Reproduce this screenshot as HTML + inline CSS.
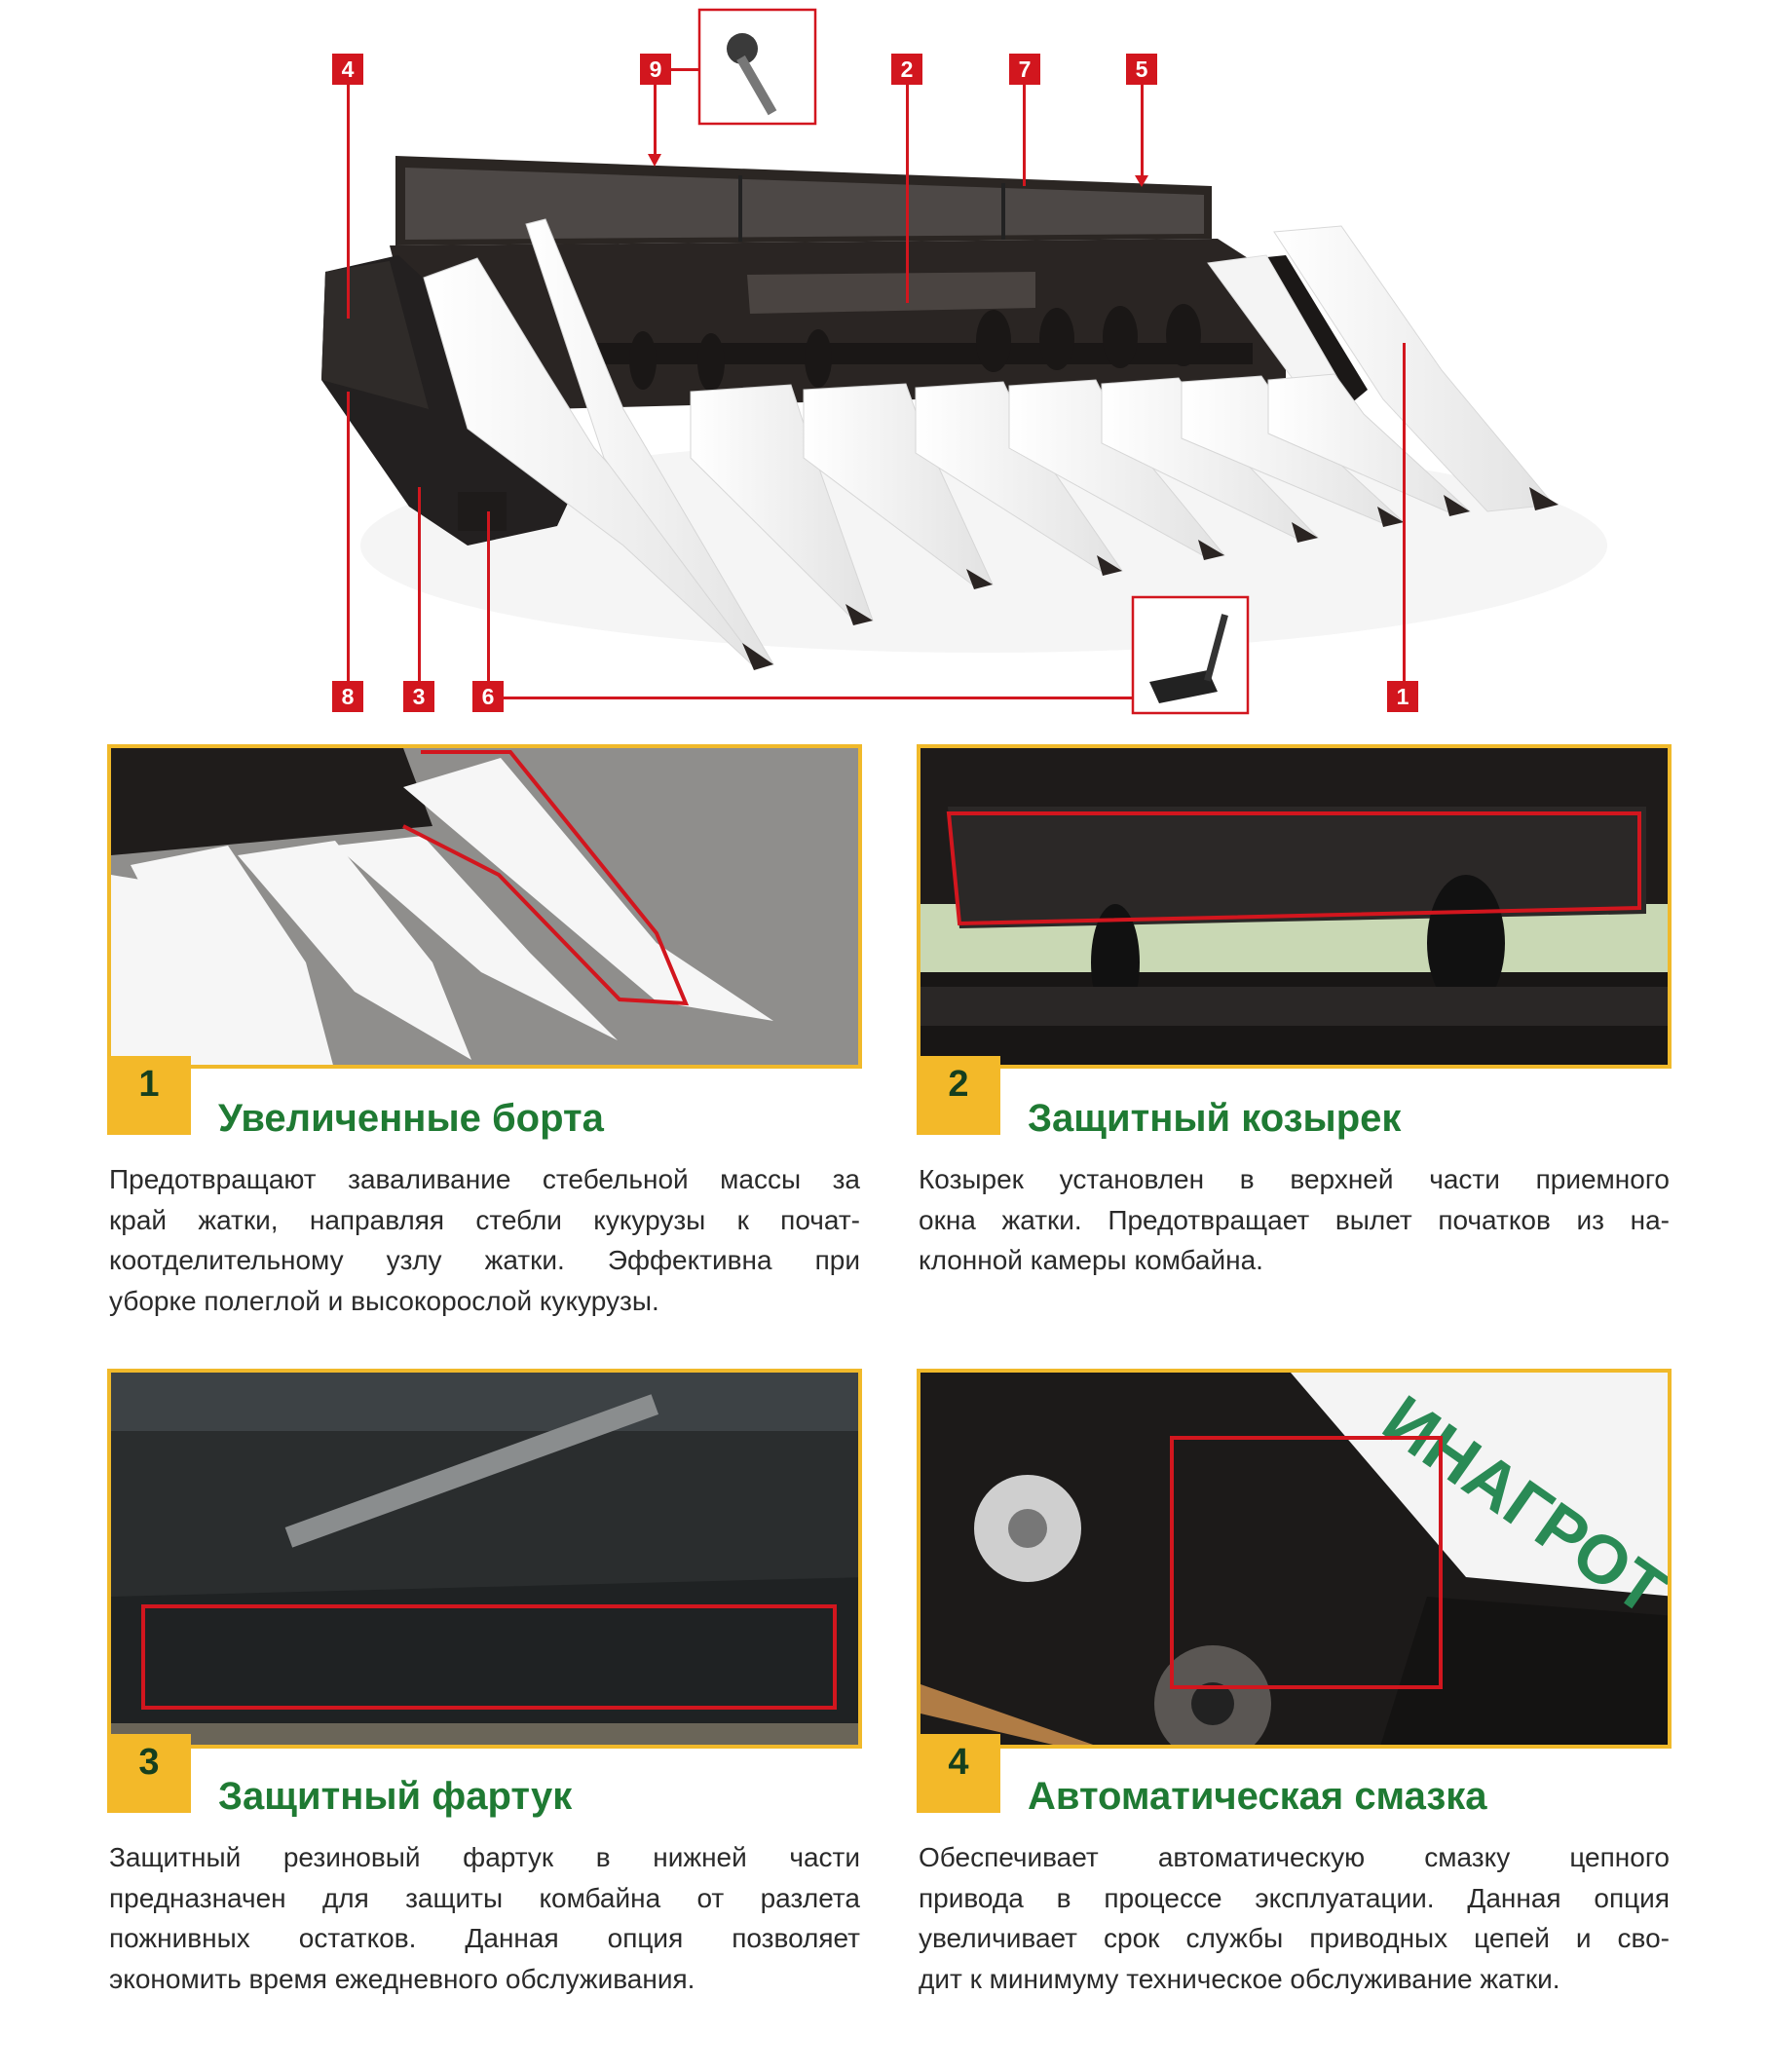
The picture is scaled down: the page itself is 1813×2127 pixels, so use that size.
<!DOCTYPE html>
<html><head><meta charset="utf-8">
<style>
body{margin:0;width:1813px;height:2127px;background:#fff;position:relative;overflow:hidden;font-family:"Liberation Sans",sans-serif}
.a{position:absolute}
.panel{position:absolute;border:4px solid #f0b92a;box-sizing:border-box;overflow:hidden}
.num{position:absolute;width:86px;height:81px;background:#f3b929;color:#163f1e;font:bold 38px "Liberation Sans",sans-serif;text-align:center;line-height:58px}
.title{position:absolute;color:#1f7a33;font:bold 40px "Liberation Sans",sans-serif;white-space:nowrap}
.txt{position:absolute;width:771px;color:#2a2a2a;font-size:28px;line-height:41.5px}
.txt div{text-align:justify;text-align-last:justify;height:41.5px;white-space:nowrap;overflow:visible}
.txt div.l{text-align-last:left}
.lab{position:absolute;width:32px;height:32px;background:#d2161e;color:#fff;font:bold 23px "Liberation Sans",sans-serif;text-align:center;line-height:32px}
.rl{position:absolute;background:#d2161e}
</style></head><body>

<svg class="a" style="left:0;top:0" width="1813" height="760">
<defs>
<linearGradient id="cone" x1="0" x2="1"><stop offset="0" stop-color="#fff"/><stop offset="1" stop-color="#e2e2e2"/></linearGradient>
</defs>
<ellipse cx="1010" cy="560" rx="640" ry="110" fill="#f5f5f5"/>
<!-- mesh panel -->
<polygon points="406,160 1244,191 1244,245 406,252" fill="#2b2623"/>
<polygon points="416,172 1236,200 1236,240 416,246" fill="#4d4846"/>
<line x1="760" y1="180" x2="760" y2="248" stroke="#222" stroke-width="4"/>
<line x1="1030" y1="188" x2="1030" y2="246" stroke="#222" stroke-width="4"/>
<!-- back wall -->
<polygon points="400,252 1250,245 1320,290 1320,400 560,420 420,330" fill="#2a2523"/>
<polygon points="767,282 1063,279 1063,316 770,322" fill="#4a4441"/>
<!-- auger -->
<rect x="586" y="352" width="700" height="22" fill="#1a1716"/>
<g fill="#1a1716">
<ellipse cx="660" cy="370" rx="14" ry="30"/><ellipse cx="730" cy="372" rx="14" ry="30"/><ellipse cx="840" cy="368" rx="14" ry="30"/><ellipse cx="1020" cy="350" rx="18" ry="32"/><ellipse cx="1085" cy="348" rx="18" ry="32"/><ellipse cx="1150" cy="346" rx="18" ry="32"/><ellipse cx="1215" cy="344" rx="18" ry="32"/>
</g>
<!-- left side block -->
<polygon points="334,279 409,262 450,300 520,400 600,480 572,540 480,560 420,520 330,390" fill="#232020"/>
<polygon points="334,279 400,268 440,420 330,390" fill="#2f2b29"/>
<rect x="470" y="505" width="50" height="40" fill="#1e1b1a"/>
<!-- right dark panel + wing -->
<polygon points="1281,266 1320,262 1404,400 1380,420" fill="#1b1817"/>
<polygon points="1240,270 1300,262 1380,400 1350,420" fill="#f4f4f4" stroke="#ddd"/>
<polygon points="1308,238 1377,232 1480,380 1595,518 1527,525 1420,410" fill="url(#cone)" stroke="#d8d8d8"/>
<!-- row cones -->
<g fill="url(#cone)" stroke="#d6d6d6" stroke-width="1">
<polygon points="709,402 812,395 830,450 896,637 880,640 709,470"/>
<polygon points="825,400 930,394 950,450 1019,600 1002,603 825,470"/>
<polygon points="940,398 1030,392 1055,445 1152,586 1135,589 940,465"/>
<polygon points="1036,396 1125,390 1150,440 1257,570 1240,573 1036,460"/>
<polygon points="1131,394 1210,388 1240,435 1353,552 1336,555 1131,455"/>
<polygon points="1213,392 1295,386 1325,430 1441,536 1424,539 1213,450"/>
<polygon points="1302,390 1370,384 1400,425 1509,525 1492,528 1302,445"/>
<!-- left divider -->
<polygon points="435,285 490,265 560,380 610,460 700,560 794,682 776,686 640,560 560,500 480,440"/>
<polygon points="540,230 560,225 640,420 794,682 780,684 620,470"/>
</g>
<g fill="#2a2422">
<polygon points="762,660 794,682 774,688"/><polygon points="868,620 896,637 876,642"/><polygon points="992,584 1019,600 1000,605"/><polygon points="1126,570 1152,586 1132,591"/><polygon points="1230,554 1257,570 1236,575"/><polygon points="1326,536 1353,552 1332,557"/><polygon points="1414,520 1441,536 1420,541"/><polygon points="1482,508 1509,525 1488,530"/><polygon points="1570,500 1600,518 1576,524"/>
</g>
<!-- insets -->
<rect x="718" y="10" width="119" height="117" fill="#fff" stroke="#d2161e" stroke-width="2.5"/>
<circle cx="762" cy="50" r="16" fill="#3a3a3a"/><rect x="772" y="55" width="10" height="65" fill="#777" transform="rotate(-30 777 88)"/>
<rect x="1163" y="613" width="118" height="119" fill="#fff" stroke="#d2161e" stroke-width="2.5"/>
<polygon points="1180,700 1240,688 1250,710 1190,722" fill="#222"/><rect x="1245" y="630" width="7" height="70" fill="#333" transform="rotate(15 1249 665)"/>
<polygon points="1165,180 1179,180 1172,192" fill="#d2161e"/>
<polygon points="665,158 679,158 672,171" fill="#d2161e"/>
</svg>
<div class="rl" style="left:356px;top:86px;width:2.5px;height:241px"></div>
<div class="rl" style="left:356px;top:402px;width:2.5px;height:297px"></div>
<div class="rl" style="left:429px;top:500px;width:2.5px;height:199px"></div>
<div class="rl" style="left:500px;top:525px;width:2.5px;height:174px"></div>
<div class="rl" style="left:517px;top:715px;width:646px;height:2.5px"></div>
<div class="rl" style="left:1440px;top:352px;width:2.5px;height:347px"></div>
<div class="rl" style="left:930px;top:86px;width:2.5px;height:225px"></div>
<div class="rl" style="left:1050px;top:86px;width:2.5px;height:105px"></div>
<div class="rl" style="left:1171px;top:86px;width:2.5px;height:96px"></div>
<div class="rl" style="left:688px;top:70px;width:30px;height:2.5px"></div>
<div class="rl" style="left:671px;top:86px;width:2.5px;height:74px"></div>
<div class="lab" style="left:341px;top:55px">4</div>
<div class="lab" style="left:657px;top:55px">9</div>
<div class="lab" style="left:915px;top:55px">2</div>
<div class="lab" style="left:1036px;top:55px">7</div>
<div class="lab" style="left:1156px;top:55px">5</div>
<div class="lab" style="left:341px;top:699px">8</div>
<div class="lab" style="left:414px;top:699px">3</div>
<div class="lab" style="left:485px;top:699px">6</div>
<div class="lab" style="left:1424px;top:699px">1</div>

<div class="panel" style="left:110px;top:764px;width:775px;height:333px;background:#8c8b8a">
<svg width="775" height="333"><rect width="775" height="333" fill="#8f8e8c"/>
<polygon points="0,0 300,0 330,80 0,110" fill="#1f1c1b"/>
<g fill="#f6f6f6"><polygon points="20,120 120,100 200,220 230,333 130,333"/><polygon points="130,110 230,95 330,220 370,320 250,250"/><polygon points="230,100 320,90 430,210 520,300 380,230"/><polygon points="0,130 60,140 130,333 0,333"/><polygon points="300,40 400,10 560,200 680,280 560,260"/></g>
<polyline points="318,4 410,4 560,190 590,262 522,258 398,130 300,80" fill="none" stroke="#d2161e" stroke-width="4"/>
</svg></div>
<div class="num" style="left:110px;top:1084px">1</div>
<div class="title" style="left:224px;top:1126px">Увеличенные борта</div>
<div class="txt" style="left:112px;top:1190px">
<div>Предотвращают заваливание стебельной массы за</div>
<div>край жатки, направляя стебли кукурузы к почат-</div>
<div>коотделительному узлу жатки. Эффективна при</div>
<div class="l">уборке полеглой и высокорослой кукурузы.</div></div>

<div class="panel" style="left:941px;top:764px;width:775px;height:333px">
<svg width="775" height="333"><rect width="775" height="333" fill="#1e1b1a"/>
<rect x="0" y="160" width="775" height="70" fill="#c9d8b4"/>
<polygon points="28,60 745,60 745,170 40,185" fill="#2b2827"/>
<rect x="0" y="230" width="775" height="103" fill="#181615"/>
<ellipse cx="200" cy="220" rx="25" ry="60" fill="#111"/><ellipse cx="560" cy="200" rx="40" ry="70" fill="#111"/>
<rect x="0" y="245" width="775" height="40" fill="#2a2726"/>
<polygon points="29,67 738,67 738,164 40,180" fill="none" stroke="#d2161e" stroke-width="4"/>
</svg></div>
<div class="num" style="left:941px;top:1084px">2</div>
<div class="title" style="left:1055px;top:1126px">Защитный козырек</div>
<div class="txt" style="left:943px;top:1190px">
<div>Козырек установлен в верхней части приемного</div>
<div>окна жатки. Предотвращает вылет початков из на-</div>
<div class="l">клонной камеры комбайна.</div></div>

<div class="panel" style="left:110px;top:1405px;width:775px;height:390px">
<svg width="775" height="390"><rect width="775" height="390" fill="#2a2d2e"/>
<rect x="0" y="0" width="775" height="60" fill="#3d4245"/>
<polygon points="0,230 775,210 775,390 0,390" fill="#1f2223"/>
<rect x="0" y="360" width="775" height="30" fill="#6a6558"/>
<rect x="170" y="90" width="400" height="22" fill="#8a8d8e" transform="rotate(-20 370 100)"/>
<rect x="33" y="240" width="710" height="104" fill="none" stroke="#d2161e" stroke-width="4"/>
</svg></div>
<div class="num" style="left:110px;top:1780px">3</div>
<div class="title" style="left:224px;top:1822px">Защитный фартук</div>
<div class="txt" style="left:112px;top:1886px">
<div>Защитный резиновый фартук в нижней части</div>
<div>предназначен для защиты комбайна от разлета</div>
<div>пожнивных остатков. Данная опция позволяет</div>
<div class="l">экономить время ежедневного обслуживания.</div></div>

<div class="panel" style="left:941px;top:1405px;width:775px;height:390px">
<svg width="775" height="390"><rect width="775" height="390" fill="#1c1a19"/>
<polygon points="380,0 775,0 775,230 560,210" fill="#f4f4f4"/>
<text x="470" y="60" fill="#2a8a55" font-family="Liberation Sans" font-weight="bold" font-size="70" transform="rotate(35 470 60)">ИНАГРОТ</text>
<polygon points="520,230 775,250 775,390 470,390" fill="#141312"/>
<circle cx="110" cy="160" r="55" fill="#cfcfcf"/><circle cx="110" cy="160" r="20" fill="#777"/>
<circle cx="300" cy="340" r="60" fill="#5a5653"/><circle cx="300" cy="340" r="22" fill="#222"/>
<polygon points="0,320 0,350 170,390 200,390" fill="#b07c45"/>
<rect x="258" y="67" width="276" height="256" fill="none" stroke="#d2161e" stroke-width="4"/>
</svg></div>
<div class="num" style="left:941px;top:1780px">4</div>
<div class="title" style="left:1055px;top:1822px">Автоматическая смазка</div>
<div class="txt" style="left:943px;top:1886px">
<div>Обеспечивает автоматическую смазку цепного</div>
<div>привода в процессе эксплуатации. Данная опция</div>
<div>увеличивает срок службы приводных цепей и сво-</div>
<div class="l">дит к минимуму техническое обслуживание жатки.</div></div>
</body></html>
